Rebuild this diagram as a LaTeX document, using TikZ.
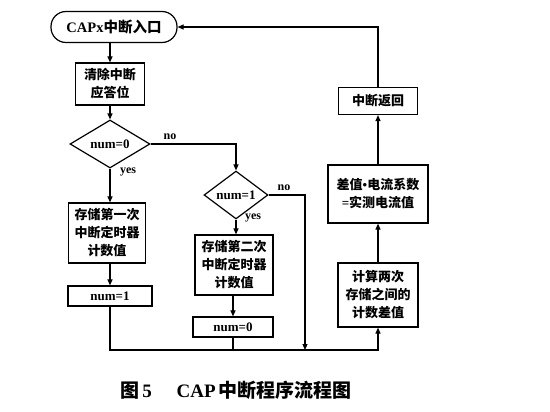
\documentclass[tikz,border=0pt]{standalone}
\usepackage{fontspec}
\setmainfont{Liberation Serif}
\newfontfamily\cjk{Noto Sans CJK SC}
\usetikzlibrary{shapes.geometric,arrows.meta}
\begin{document}
\begin{tikzpicture}[x=1pt,y=-1pt,
  every node/.style={font=\fontsize{13}{18}\selectfont\bfseries, inner sep=0pt, align=center},
  box/.style={draw, line width=1.2pt, rectangle},
  dia/.style={draw, line width=1.2pt, diamond},
  lbl/.style={font=\fontsize{12}{14}\selectfont\bfseries},
  link/.style={line width=1.1pt},
  arr/.style={link, -{Triangle[length=6pt,width=5pt]}}
]
\useasboundingbox (0,0) rectangle (550,412);
% nodes
\node[box, rounded corners=15pt, minimum width=126pt, minimum height=31pt, font=\fontsize{14.5}{18}\selectfont\bfseries] (start) at (114,27) {CAPx{\cjk 中断入口}};
\node[box, minimum width=69pt, minimum height=42pt] (clear) at (110,84) {\cjk 清除中断\\\cjk 应答位};
\node[dia, minimum width=80pt, minimum height=44pt] (d1) at (110,144) {num=0};
\node[box, minimum width=77pt, minimum height=60pt] (b1) at (107,233) {\cjk 存储第一次\\\cjk 中断定时器\\\cjk 计数值};
\node[box, minimum width=84pt, minimum height=20pt] (n1) at (110,296) {num=1};
\node[dia, minimum width=64pt, minimum height=40pt] (d2) at (236,195) {num=1};
\node[box, minimum width=78pt, minimum height=60pt] (b2) at (234,265) {\cjk 存储第二次\\\cjk 中断定时器\\\cjk 计数值};
\node[box, minimum width=80pt, minimum height=20pt] (n0) at (233,327) {num=0};
\node[box, minimum width=79pt, minimum height=27pt] (ret) at (378,101) {\cjk 中断返回};
\node[box, minimum width=100pt, minimum height=58pt] (c2) at (378,194) {{\cjk 差值}•{\cjk 电流系数}\\={\cjk 实测电流值}};
\node[box, minimum width=80pt, minimum height=64pt] (c1) at (378,295) {\cjk 计算两次\\\cjk 存储之间的\\\cjk 计数差值};
\node[font=\fontsize{19}{21}\selectfont\bfseries] (cap) at (236,390) {{\cjk 图}\,5\hspace{1.3em}CAP\,{\cjk 中断程序流程图}};
% labels
\node[lbl] (no1) at (170,137) {no};
\node[lbl] (yes1) at (128,172) {yes};
\node[lbl] (no2) at (284,188) {no};
\node[lbl] (yes2) at (253,218) {yes};
\coordinate (bot) at (0,350);
\coordinate (rt) at (305,0);
% connectors
\draw[arr] (clear.north |- start.south) -- (clear.north);
\draw[arr] (clear.south) -- (d1.north);
\draw[arr] (d1.east) -| (d2.north);
\draw[arr] (d1.south) -- (d1.south |- b1.north);
\draw[arr] (d1.south |- b1.south) -- (n1.north);
\draw[arr] (d2.south) -- (d2.south |- b2.north);
\draw[arr] (b2.south -| n0.north) -- (n0.north);
\draw[arr] (d2.east) -- (d2.east -| rt) -- (rt |- bot);
\draw[link] (n0.south) -- (n0.south |- bot);
\draw[arr] (n1.south) -- (n1.south |- bot) -| (c1.south);
\draw[arr] (c1.north) -- (c2.south);
\draw[arr] (c2.north) -- (ret.south);
\draw[arr] (ret.north) |- (start.east);
\end{tikzpicture}
\end{document}
